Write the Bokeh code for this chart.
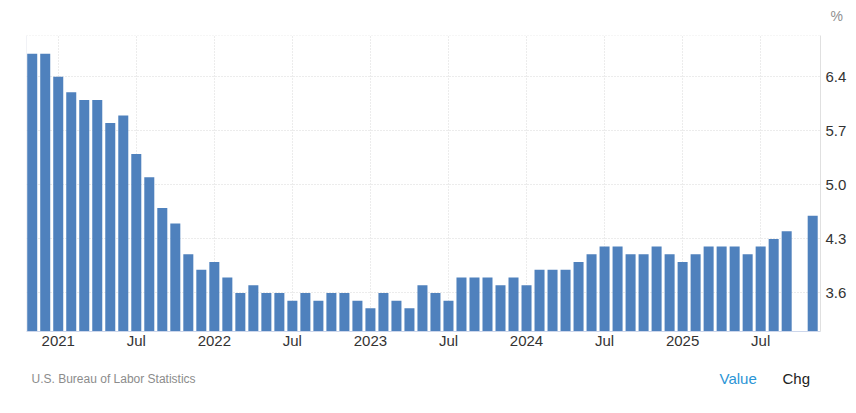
import pandas as pd
from bokeh.plotting import figure
from bokeh.layouts import column
from bokeh.models import (ColumnDataSource, FixedTicker, Range1d, Span, Label,
                          PrintfTickFormatter, LinearAxis)
from bokeh.embed import file_html
from bokeh.resources import INLINE

# ---- data (US unemployment rate, %) ----
first_month = "2020-11"
last_month = "2025-11"
values = [
    6.7, 6.7,                                                    # 2020 Nov-Dec
    6.4, 6.2, 6.1, 6.1, 5.8, 5.9, 5.4, 5.1, 4.7, 4.5, 4.1, 3.9,  # 2021
    4.0, 3.8, 3.6, 3.7, 3.6, 3.6, 3.5, 3.6, 3.5, 3.6, 3.6, 3.5,  # 2022
    3.4, 3.6, 3.5, 3.4, 3.7, 3.6, 3.5, 3.8, 3.8, 3.8, 3.7, 3.8,  # 2023
    3.7, 3.9, 3.9, 3.9, 4.0, 4.1, 4.2, 4.2, 4.1, 4.1, 4.2, 4.1,  # 2024
    4.0, 4.1, 4.2, 4.2, 4.2, 4.1, 4.2, 4.3, 4.4, None, 4.6,      # 2025 (Oct missing)
]
tick_months = ["2021-01", "2021-07", "2022-01", "2022-07", "2023-01",
               "2023-07", "2024-01", "2024-07", "2025-01", "2025-07"]
tick_labels = ["2021", "Jul", "2022", "Jul", "2023", "Jul", "2024", "Jul", "2025", "Jul"]
y_ticks = [3.6, 4.3, 5.0, 5.7, 6.4]
unit_text = "%"
source_text = "U.S. Bureau of Labor Statistics"
toggle_texts = ["Value", "Chg"]

# ---- build ----
start = pd.Period(first_month, "M")
months = pd.period_range(first_month, last_month, freq="M")
xs, tops = [], []
for i, (m, v) in enumerate(zip(months, values)):
    if v is not None:
        xs.append(i)
        tops.append(v)

def midx(m):
    return (pd.Period(m, "M") - start).n

tick_x = [midx(m) for m in tick_months]

W = 850
FL, FR = 26, 820          # frame left / right (page px)
Y0, Y1 = 3.1, 6.935
X0, X1 = -0.44, 60.6
FONT = "Liberation Sans"

def blank(height, **kw):
    f = figure(width=W, height=height, x_range=Range1d(FL, FR), y_range=Range1d(0, height),
               frame_width=FR - FL, min_border_left=FL, min_border_right=W - FR,
               min_border_top=0, min_border_bottom=0,
               output_backend="svg", toolbar_location=None,
               x_axis_type=None, y_axis_type=None)
    f.grid.visible = False
    f.outline_line_color = None
    f.background_fill_color = "white"
    f.border_fill_color = "white"
    return f

# header: unit shown as a right-axis label
head = blank(35)
unit_axis = LinearAxis(ticker=FixedTicker(ticks=[20]),
                       major_label_overrides={20: unit_text},
                       axis_line_color=None, major_tick_line_color=None,
                       minor_tick_line_color=None, major_label_standoff=4,
                       major_label_text_font=FONT, major_label_text_font_size="14px",
                       major_label_text_color="#909090")
head.add_layout(unit_axis, "right")

# main chart
p = figure(x_range=Range1d(X0, X1), y_range=Range1d(Y0, Y1),
           width=W, height=324, frame_width=FR - FL, frame_height=296,
           min_border_left=FL, min_border_top=0, min_border_right=W - FR, min_border_bottom=28,
           y_axis_location="right", output_backend="svg", toolbar_location=None)
p.outline_line_color = None
p.background_fill_color = "white"
p.border_fill_color = "white"

src = ColumnDataSource(dict(x=xs, top=tops))
p.vbar(x="x", top="top", bottom=Y0, width=0.77, source=src,
       fill_color="#4f81bd", line_color=None)

xa = p.xaxis[0]
xa.ticker = FixedTicker(ticks=tick_x)
xa.major_label_overrides = {x: lab for x, lab in zip(tick_x, tick_labels)}
xa.axis_line_color = "#ccd6eb"
xa.major_tick_line_color = None
xa.minor_tick_line_color = None
xa.major_label_standoff = -6
xa.major_label_text_font = FONT
xa.major_label_text_font_size = "15px"
xa.major_label_text_color = "#333333"

ya = p.yaxis[0]
ya.ticker = FixedTicker(ticks=y_ticks)
ya.formatter = PrintfTickFormatter(format="%.1f")
ya.axis_line_color = "#e0e0e0"
ya.major_tick_line_color = None
ya.minor_tick_line_color = None
ya.major_label_standoff = -1
ya.major_label_text_font = FONT
ya.major_label_text_font_size = "15px"
ya.major_label_text_color = "#333333"

for g in (p.xgrid[0], p.ygrid[0]):
    g.grid_line_color = "#d9d9d9"
    g.grid_line_dash = "1 2"
    g.grid_line_width = 1

p.add_layout(Span(location=Y1, dimension="width", line_color="#d9d9d9",
                  line_dash="1 2", line_width=1))
p.add_layout(Span(location=X0, dimension="height", line_color="#e3e6ee", line_width=1))

# footer (x in page pixels)
foot = blank(40)
foot.add_layout(Label(x=31, y=21, text=source_text, text_font=FONT, text_font_size="12px",
                      text_color="#8c8c8c", text_align="left", text_baseline="middle"))
foot.add_layout(Label(x=719, y=21, text=toggle_texts[0], text_font=FONT, text_font_size="15px",
                      text_color="#2b95d6", text_align="left", text_baseline="middle"))
foot.add_layout(Label(x=782, y=21, text=toggle_texts[1], text_font=FONT, text_font_size="15px",
                      text_color="#222222", text_align="left", text_baseline="middle"))

layout = column(head, p, foot, spacing=0)
open("out.html", "w").write(file_html(layout, INLINE))
